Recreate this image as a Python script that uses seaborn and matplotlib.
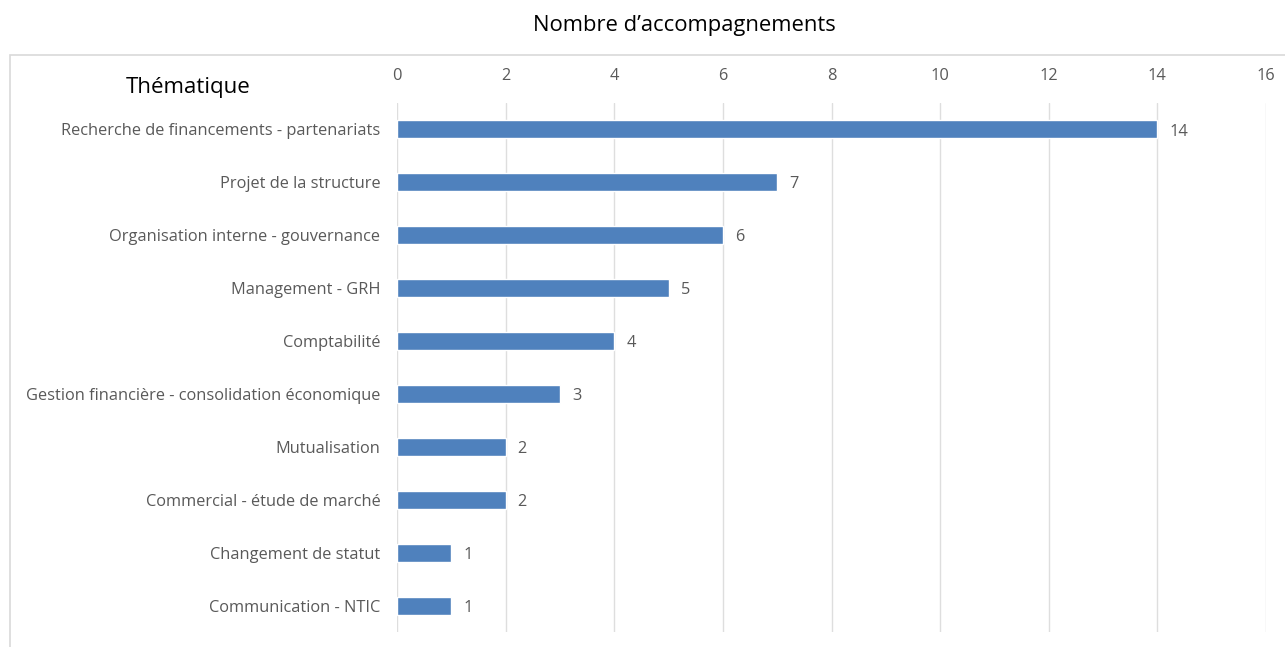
import matplotlib
matplotlib.use("Agg")
import matplotlib.pyplot as plt
import seaborn as sns
import pandas as pd
from matplotlib.patches import Rectangle

thematiques = [
    "Recherche de financements - partenariats",
    "Projet de la structure",
    "Organisation interne - gouvernance",
    "Management - GRH",
    "Comptabilité",
    "Gestion financière - consolidation économique",
    "Mutualisation",
    "Commercial - étude de marché",
    "Changement de statut",
    "Communication - NTIC",
]
nombres = [14, 7, 6, 5, 4, 3, 2, 2, 1, 1]
x_ticks = [0, 2, 4, 6, 8, 10, 12, 14, 16]

df = pd.DataFrame({"Thématique": thematiques, "Nombre": nombres})

sns.set_style("white")
plt.rcParams["font.family"] = ["Open Sans", "DejaVu Sans"]

fig = plt.figure(figsize=(12.85, 6.47), dpi=100)
ax = fig.add_axes([397 / 1285, 1 - 632 / 647, (1266 - 397) / 1285, (632 - 103) / 647])

sns.barplot(data=df, x="Nombre", y="Thématique", color="#4F81BD", width=0.34,
            saturation=1, ax=ax, zorder=3)

grey = "#595959"
ax.set_xlim(0, 16)
ax.set_xticks(x_ticks)
ax.xaxis.tick_top()
ax.tick_params(axis="x", colors=grey, labelsize=11.8, length=0, pad=14)
ax.tick_params(axis="y", colors=grey, labelsize=11.8, length=0, pad=12)
ax.grid(axis="x", color="#DEDEDE", linewidth=1, zorder=0)
for s in ax.spines.values():
    s.set_visible(False)
ax.set_xlabel("")
ax.set_ylabel("")

for i, v in enumerate(nombres):
    ax.text(v + 0.22, i + 0.04, str(v), va="center", ha="left", fontsize=11.8, color=grey)

fig.text(684 / 1285, 1 - 25 / 647, "Nombre d\u2019accompagnements", ha="center", va="center",
         fontsize=15.8, color="black")
fig.text(188 / 1285, 1 - 88 / 647, "Thématique", ha="center", va="center",
         fontsize=16, color="black")

fig.add_artist(Rectangle((10 / 1285, -0.1), 1.0, 0.1 + 1 - 55 / 647, transform=fig.transFigure,
                         fill=False, edgecolor="#D9D9D9", linewidth=1.2, clip_on=False))

fig.savefig("out.png", dpi=100, facecolor="white")
